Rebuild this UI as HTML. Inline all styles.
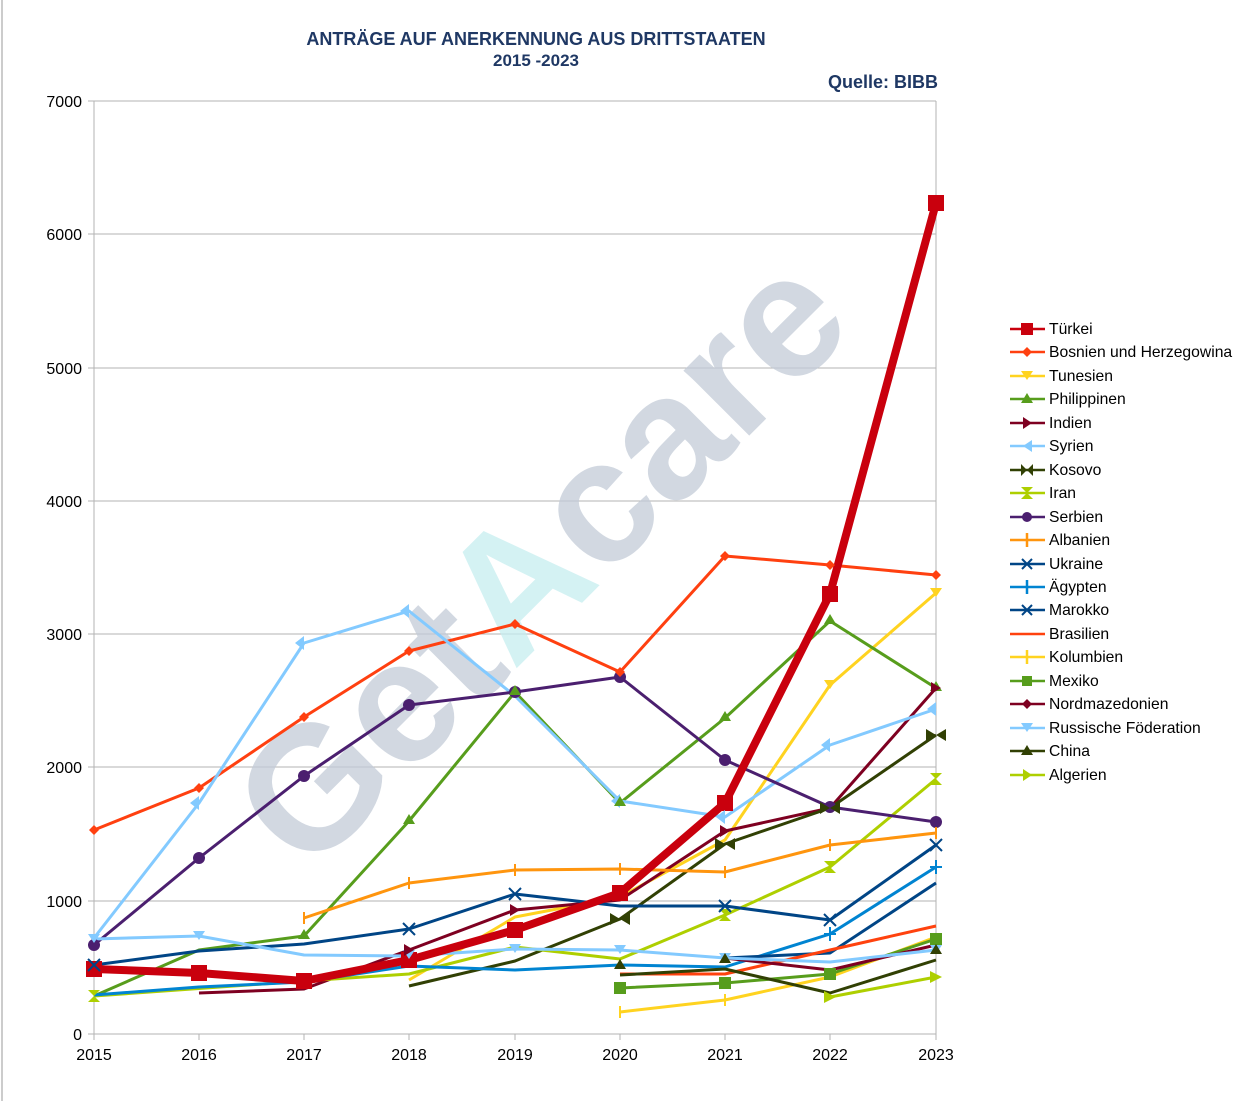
<!DOCTYPE html><html><head><meta charset="utf-8"><style>body{margin:0;background:#fff}svg{display:block;font-family:"Liberation Sans",sans-serif}</style></head><body>
<svg width="1242" height="1101" viewBox="0 0 1242 1101">
<rect width="1242" height="1101" fill="#fff"/>
<line x1="2" y1="0" x2="2" y2="1101" stroke="#ccc" stroke-width="2"/>
<text x="536" y="45" text-anchor="middle" font-size="18" font-weight="bold" fill="#1f3864">ANTRÄGE AUF ANERKENNUNG AUS DRITTSTAATEN</text>
<text x="536" y="66" text-anchor="middle" font-size="17" font-weight="bold" fill="#1f3864">2015 -2023</text>
<text x="938" y="88" text-anchor="end" font-size="18" font-weight="bold" fill="#1f3864">Quelle: BIBB</text>
<g stroke="#b3b3b3" stroke-width="1">
<line x1="88" y1="101" x2="936" y2="101"/><line x1="88" y1="234" x2="936" y2="234"/><line x1="88" y1="368" x2="936" y2="368"/><line x1="88" y1="501" x2="936" y2="501"/><line x1="88" y1="634" x2="936" y2="634"/><line x1="88" y1="767" x2="936" y2="767"/><line x1="88" y1="901" x2="936" y2="901"/><line x1="88" y1="1034" x2="936" y2="1034"/>
<line x1="94" y1="101" x2="94" y2="1040"/><line x1="936" y1="101" x2="936" y2="1040"/>
<line x1="199" y1="1034" x2="199" y2="1040"/><line x1="304" y1="1034" x2="304" y2="1040"/><line x1="409" y1="1034" x2="409" y2="1040"/><line x1="515" y1="1034" x2="515" y2="1040"/><line x1="620" y1="1034" x2="620" y2="1040"/><line x1="725" y1="1034" x2="725" y2="1040"/><line x1="830" y1="1034" x2="830" y2="1040"/>
</g>
<g font-size="16" fill="#000" text-anchor="end">
<text x="82" y="107">7000</text><text x="82" y="240">6000</text><text x="82" y="374">5000</text><text x="82" y="507">4000</text><text x="82" y="640">3000</text><text x="82" y="773">2000</text><text x="82" y="907">1000</text><text x="82" y="1040">0</text></g>
<g font-size="16" fill="#000" text-anchor="middle">
<text x="94" y="1060">2015</text><text x="199" y="1060">2016</text><text x="304" y="1060">2017</text><text x="409" y="1060">2018</text><text x="515" y="1060">2019</text><text x="620" y="1060">2020</text><text x="725" y="1060">2021</text><text x="830" y="1060">2022</text><text x="936" y="1060">2023</text></g>
<text x="0" y="60" transform="translate(540,560) rotate(-45)" text-anchor="middle" font-size="175" font-weight="bold" fill="#c3ccd8" opacity="0.75">Get<tspan fill="#c6eef0">A</tspan>care</text>
<g fill="none" stroke-width="3" stroke-linejoin="round">
<polyline stroke="#ff4010" points="94,830 199,788 304,717 409,651 515,624 620,672 725,556 830,565 936,575"/>
<polyline stroke="#ffd320" points="409,980 515,917 620,897 725,840 830,685 936,593"/>
<polyline stroke="#579d1c" points="94,996 199,950 304,936 409,821 515,692 620,803 725,718 830,621 936,688"/>
<polyline stroke="#7e0021" points="199,993 304,989 409,950 515,910 620,900 725,831 830,808 936,688"/>
<polyline stroke="#83caff" points="94,938 199,803 304,643 409,611 515,696 620,801 725,817 830,745 936,709"/>
<polyline stroke="#314004" points="409,986 515,961 620,919 725,844 830,808 936,735"/>
<polyline stroke="#aecf00" points="94,996 304,981 409,974 515,947 620,959 725,915 830,867 936,779"/>
<polyline stroke="#4b1f6f" points="94,945 199,858 304,776 409,705 515,692 620,677 725,760 830,807 936,822"/>
<polyline stroke="#ff950e" points="304,918 409,883 515,870 620,869 725,872 830,845 936,833"/>
<polyline stroke="#004586" points="94,965 199,951 304,944 409,929 515,894 620,906 725,906 830,920 936,845"/>
<polyline stroke="#0084d1" points="94,995 199,987 304,982 409,966 515,970 620,965 725,967 830,934 936,867"/>
<polyline stroke="#004586" points="725,958 830,953 936,883"/>
<polyline stroke="#ff420e" points="620,974 725,974 830,950 936,926"/>
<polyline stroke="#ffd320" points="620,1012 725,1000 830,977 936,937"/>
<polyline stroke="#579d1c" points="620,988 725,983 830,974 936,939"/>
<polyline stroke="#7e0021" points="725,958 830,970 936,945"/>
<polyline stroke="#83caff" points="94,939 199,936 304,955 409,956 515,949 620,950 725,958 830,962 936,950"/>
<polyline stroke="#314004" points="620,975 725,969 830,993 936,960"/>
<polyline stroke="#aecf00" points="830,997 936,977"/>
<polyline stroke="#c9000d" stroke-width="8" points="94,969 199,973 304,981 409,960 515,930 620,893 725,803 830,594 936,203"/>
</g>
<g>
<g fill="#4b1f6f"><circle cx="94" cy="945" r="6"/><circle cx="199" cy="858" r="6"/><circle cx="304" cy="776" r="6"/><circle cx="409" cy="705" r="6"/><circle cx="515" cy="692" r="6"/><circle cx="620" cy="677" r="6"/><circle cx="725" cy="760" r="6"/><circle cx="830" cy="807" r="6"/><circle cx="936" cy="822" r="6"/></g>
<g fill="#c9000d"><rect x="86" y="961" width="16" height="16"/><rect x="191" y="965" width="16" height="16"/><rect x="296" y="973" width="16" height="16"/><rect x="401" y="952" width="16" height="16"/><rect x="507" y="922" width="16" height="16"/><rect x="612" y="885" width="16" height="16"/><rect x="717" y="795" width="16" height="16"/><rect x="822" y="586" width="16" height="16"/><rect x="928" y="195" width="16" height="16"/></g>
<g fill="#579d1c"><rect x="614" y="982" width="12" height="12"/><rect x="719" y="977" width="12" height="12"/><rect x="824" y="968" width="12" height="12"/><rect x="930" y="933" width="12" height="12"/></g>
<g fill="#ff4010"><path d="M94 825l5 5-5 5-5-5z M199 783l5 5-5 5-5-5z M304 712l5 5-5 5-5-5z M409 646l5 5-5 5-5-5z M515 619l5 5-5 5-5-5z M620 667l5 5-5 5-5-5z M725 551l5 5-5 5-5-5z M830 560l5 5-5 5-5-5z M936 570l5 5-5 5-5-5z"/></g>
<g fill="#83caff"><path d="M409 604l-9 7 9 7z M304 636l-9 7 9 7z M199 796l-9 7 9 7z M725 810l-9 7 9 7z M830 738l-9 7 9 7z M936 702l-9 7 9 7z M620 794l-9 7 9 7z"/></g>
<g fill="#83caff"><path d="M88 934h12l-6 9z M193 931h12l-6 9z M409 950h-6l6 9 6-9z M515 944h-6l6 9 6-9z M620 945h-6l6 9 6-9z M725 953h-6l6 9 6-9z M936 945h-6l6 9 6-9z"/></g>
<g fill="#579d1c"><path d="M409 814l6 10h-12z M515 685l6 10h-12z M620 796l6 10h-12z M725 711l6 10h-12z M830 614l6 10h-12z M936 681l6 10h-12z M304 929l6 10h-12z"/></g>
<g fill="#ffd320"><path d="M824 680h12l-6 9z M930 588h12l-6 9z"/></g>
<g fill="#7e0021"><path d="M720 825l10 6-10 6z M931 682l10 6-10 6z M404 944l10 6-10 6z M510 904l10 6-10 6z"/></g>
<g fill="#aecf00"><path d="M824 861h12l-12 12h12z M930 773h12l-12 12h12z M719 909h12l-12 12h12z M88 990h12l-12 12h12z"/><path d="M824 991l12 6-12 6z M930 971l12 6-12 6z"/></g>
<g fill="#314004"><path d="M614 969l6-10 6 10z M719 963l6-10 6 10z M930 954l6-10 6 10z"/><path d="M820 802l10 6 10-6v12l-10-6-10 6z M926 729l10 6 10-6v12l-10-6-10 6z M715 838l10 6 10-6v12l-10-6-10 6z M610 913l10 6 10-6v12l-10-6-10 6z"/></g>
<g stroke="#004586" stroke-width="2"><path d="M88 959l12 12M100 959l-12 12 M509 888l12 12M521 888l-12 12 M719 900l12 12M731 900l-12 12 M824 914l12 12M836 914l-12 12 M930 839l12 12M942 839l-12 12 M403 923l12 12M415 923l-12 12"/></g>
<g stroke="#ff950e" stroke-width="2"><path d="M304 912v12M409 877v12M515 864v12M620 863v12M725 866v12M830 839v12M936 827v12"/></g>
<g stroke="#0084d1" stroke-width="2"><path d="M830 927v14M824 934h12M936 860v14M930 867h12"/></g>
<g stroke="#ffd320" stroke-width="2"><path d="M620 1006v12M725 994v12"/></g>
</g>
<g font-size="15.7" fill="#000">
<g stroke-width="2.5">
<line x1="1010" y1="329" x2="1045" y2="329" stroke="#c9000d"/><rect x="1021" y="323" width="12" height="12" fill="#c9000d"/>
<line x1="1010" y1="352" x2="1045" y2="352" stroke="#ff4010"/><path d="M1027 347l5 5-5 5-5-5z" fill="#ff4010"/>
<line x1="1010" y1="376" x2="1045" y2="376" stroke="#ffd320"/><path d="M1021 371h12l-6 9z" fill="#ffd320"/>
<line x1="1010" y1="399" x2="1045" y2="399" stroke="#579d1c"/><path d="M1027 393l6 10h-12z" fill="#579d1c"/>
<line x1="1010" y1="423" x2="1045" y2="423" stroke="#7e0021"/><path d="M1023 417l9 6-9 6z" fill="#7e0021"/>
<line x1="1010" y1="446" x2="1045" y2="446" stroke="#83caff"/><path d="M1032 440l-9 6 9 6z" fill="#83caff"/>
<line x1="1010" y1="470" x2="1045" y2="470" stroke="#314004"/><path d="M1021 464l6 6 6-6v12l-6-6-6 6z" fill="#314004"/>
<line x1="1010" y1="493" x2="1045" y2="493" stroke="#aecf00"/><path d="M1021 487h12l-12 12h12z" fill="#aecf00"/>
<line x1="1010" y1="517" x2="1045" y2="517" stroke="#4b1f6f"/><circle cx="1027" cy="517" r="5" fill="#4b1f6f"/>
<line x1="1010" y1="540" x2="1045" y2="540" stroke="#ff950e"/><path d="M1027 533v14" stroke="#ff950e"/>
<line x1="1010" y1="564" x2="1045" y2="564" stroke="#004586"/><path d="M1022 559l10 10M1032 559l-10 10" stroke="#004586" stroke-width="2"/>
<line x1="1010" y1="587" x2="1045" y2="587" stroke="#0084d1"/><path d="M1027 580v14" stroke="#0084d1"/>
<line x1="1010" y1="610" x2="1045" y2="610" stroke="#004586"/><path d="M1022 605l10 10M1032 605l-10 10" stroke="#004586" stroke-width="2"/>
<line x1="1010" y1="634" x2="1045" y2="634" stroke="#ff420e"/>
<line x1="1010" y1="657" x2="1045" y2="657" stroke="#ffd320"/><path d="M1027 650v14" stroke="#ffd320"/>
<line x1="1010" y1="681" x2="1045" y2="681" stroke="#579d1c"/><rect x="1022" y="676" width="10" height="10" fill="#579d1c"/>
<line x1="1010" y1="704" x2="1045" y2="704" stroke="#7e0021"/><path d="M1027 699l5 5-5 5-5-5z" fill="#7e0021"/>
<line x1="1010" y1="728" x2="1045" y2="728" stroke="#83caff"/><path d="M1021 723h12l-6 9z" fill="#83caff"/>
<line x1="1010" y1="751" x2="1045" y2="751" stroke="#314004"/><path d="M1027 745l6 10h-12z" fill="#314004"/>
<line x1="1010" y1="775" x2="1045" y2="775" stroke="#aecf00"/><path d="M1023 769l9 6-9 6z" fill="#aecf00"/>
</g>
<text x="1049" y="334">Türkei</text><text x="1049" y="357">Bosnien und Herzegowina</text><text x="1049" y="381">Tunesien</text><text x="1049" y="404">Philippinen</text><text x="1049" y="428">Indien</text><text x="1049" y="451">Syrien</text><text x="1049" y="475">Kosovo</text><text x="1049" y="498">Iran</text><text x="1049" y="522">Serbien</text><text x="1049" y="545">Albanien</text><text x="1049" y="569">Ukraine</text><text x="1049" y="592">Ägypten</text><text x="1049" y="615">Marokko</text><text x="1049" y="639">Brasilien</text><text x="1049" y="662">Kolumbien</text><text x="1049" y="686">Mexiko</text><text x="1049" y="709">Nordmazedonien</text><text x="1049" y="733">Russische Föderation</text><text x="1049" y="756">China</text><text x="1049" y="780">Algerien</text>
</g>
</svg></body></html>
